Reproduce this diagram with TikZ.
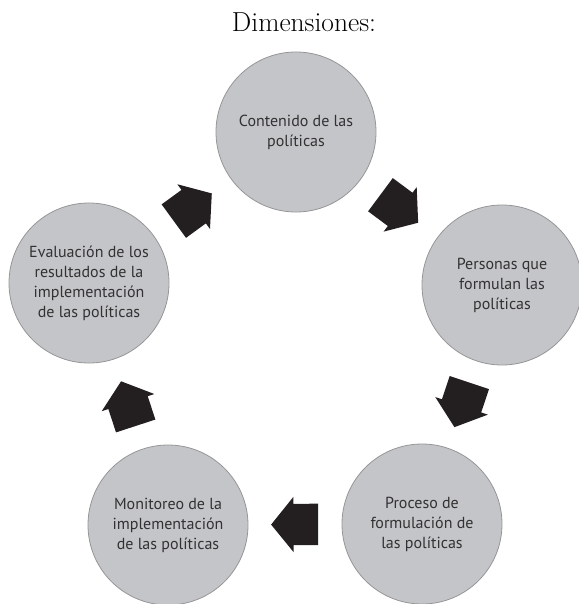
\documentclass[tikz,border=0pt]{standalone}
\usepackage{fontspec}
\newfontfamily\circlefont{PT Sans}
\usetikzlibrary{shapes.arrows, positioning}
\definecolor{CircleColor}{RGB}{196,197,200}
\definecolor{EdgeColor}{RGB}{150,150,152}
\definecolor{LabelColor}{RGB}{50,50,50}
\definecolor{ArrowColor}{RGB}{35,31,32}
\tikzstyle{dimension} = [circle, minimum size=160pt, inner sep=0pt, fill=CircleColor, draw=EdgeColor, line width=0.8pt, text=LabelColor, align=center, font=\circlefont\fontsize{16}{20}\selectfont]
\tikzstyle{blockarrow} = [single arrow, fill=ArrowColor, draw=none, inner xsep=0pt, inner ysep=20.5pt, minimum height=47pt, single arrow head extend=7pt, single arrow tip angle=102, sloped, allow upside down, xshift=-8pt]
\begin{document}
\begin{tikzpicture}[x=1pt, y=1pt]
    \useasboundingbox (0,0) rectangle (578,-604);

    % Title
    \node[anchor=base, font=\fontsize{27.5}{32}\selectfont] (titulo) at (304,-32) {Dimensiones:};

    % Dimensions
    \node[dimension] (contenido) at (296,-132) {Contenido de las\\políticas};
    \node[dimension] (personas) at (502,-285) {Personas que\\formulan las\\políticas};
    \node[dimension] (proceso) at (422,-524) {Proceso de\\formulación de\\las políticas};
    \node[dimension] (monitoreo) at (168,-525) {Monitoreo de la\\implementación\\de las políticas};
    \node[dimension] (evaluacion) at (89,-283) {Evaluación de los\\resultados de la\\implementación\\de las políticas};

    % Cycle arrows
    \foreach \from/\to in {contenido/personas, personas/proceso, proceso/monitoreo, monitoreo/evaluacion, evaluacion/contenido} {
            \path (\from) -- node[blockarrow] {} (\to);
        }
\end{tikzpicture}
\end{document}
